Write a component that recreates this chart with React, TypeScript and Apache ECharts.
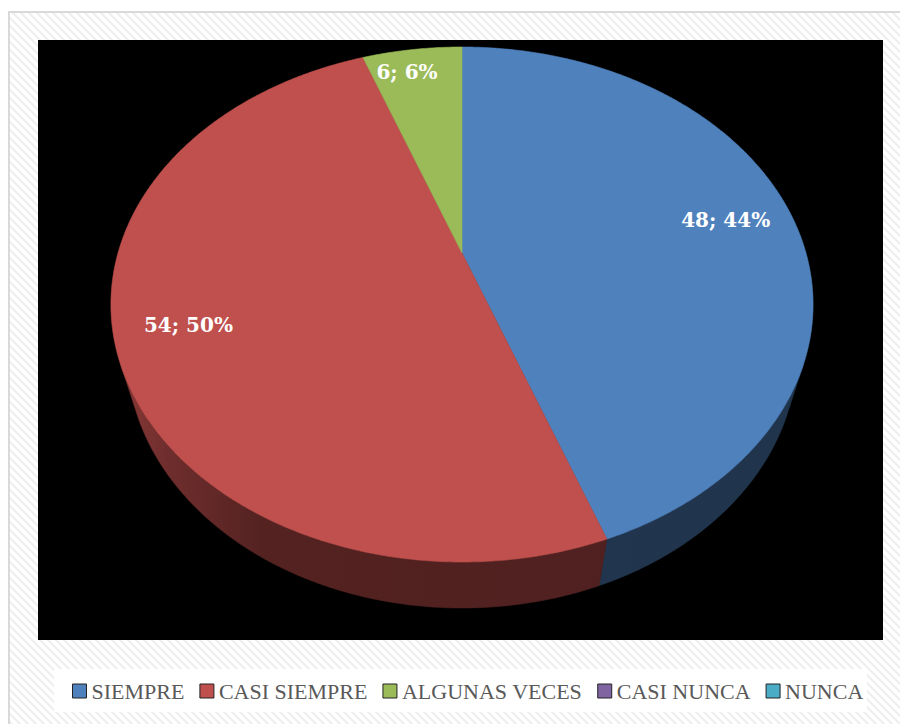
import React, { useEffect, useRef } from "react";
import * as echarts from "echarts";

const CATEGORIES = ["SIEMPRE", "CASI SIEMPRE", "ALGUNAS VECES", "CASI NUNCA", "NUNCA"];
const VALUES = [48, 54, 6, 0, 0];
const COLORS = ["#4f81bd", "#c0504d", "#9bbb59", "#8064a2", "#4bacc6"];

// perspective projection of a tilted 3D pie
const CX = 462;
const CY = 253;
const A = 344;
const K = 0.2;
const SIN_PHI = 0.7186;
const COS_PHI = Math.sqrt(1 - SIN_PHI * SIN_PHI);
const DIST = COS_PHI / K;
const FOCAL = A * DIST;
const THICK = 0.222;

function project(theta: number, r: number, h: number): number[] {
  const u = r * Math.sin(theta);
  const v = -r * Math.cos(theta);
  const depth = DIST - v * COS_PHI - h * SIN_PHI;
  return [CX + (u * FOCAL) / depth, CY + ((v * SIN_PHI - h * COS_PHI) * FOCAL) / depth];
}

function shade(hex: string, f: number): string {
  const n = parseInt(hex.slice(1), 16);
  const r = Math.round(((n >> 16) & 255) * f);
  const g = Math.round(((n >> 8) & 255) * f);
  const b = Math.round((n & 255) * f);
  return `rgb(${r},${g},${b})`;
}

const TOTAL = VALUES.reduce((a, b) => a + b, 0);
const V_MIN = 1 / (DIST * COS_PHI);
const VIS_START = Math.acos(-V_MIN);
const VIS_END = 2 * Math.PI - VIS_START;

function makeRender(idx: number) {
  return (params: any, api: any) => {
    const value = api.value(0) as number;
    if (!value) return { type: "group", children: [] };
    let before = 0;
    for (let j = 0; j < idx; j++) before += VALUES[j];
    const a0 = (before / TOTAL) * Math.PI * 2;
    const a1 = ((before + value) / TOTAL) * Math.PI * 2;
    const color = COLORS[idx];
    const children: any[] = [];
    const step = Math.PI / 360;

    // side wall
    const s = Math.max(a0, VIS_START);
    const e = Math.min(a1, VIS_END);
    if (e > s) {
      const top: number[][] = [];
      const bot: number[][] = [];
      const n = Math.max(2, Math.ceil((e - s) / step));
      for (let k = 0; k <= n; k++) {
        const t = s + ((e - s) * k) / n;
        top.push(project(t, 1, 0));
        bot.push(project(t, 1, -THICK));
      }
      const pts = top.concat(bot.reverse());
      const fill = new echarts.graphic.LinearGradient(
        110, 0, 812, 0,
        [
          { offset: 0, color: shade(color, 0.74) },
          { offset: 0.08, color: shade(color, 0.58) },
          { offset: 0.22, color: shade(color, 0.43) },
          { offset: 1, color: shade(color, 0.4) },
        ],
        true
      );
      children.push({
        type: "polygon",
        z2: 1,
        shape: { points: pts },
        style: { fill, stroke: shade(color, 0.42), lineWidth: 0.5 },
      });
    }

    // top face
    const facePts: number[][] = [project(0, 0, 0)];
    const n2 = Math.max(2, Math.ceil((a1 - a0) / step));
    for (let k = 0; k <= n2; k++) {
      facePts.push(project(a0 + ((a1 - a0) * k) / n2, 1, 0));
    }
    children.push({
      type: "polygon",
      z2: 10,
      shape: { points: facePts },
      style: { fill: color, stroke: color, lineWidth: 0.6 },
    });

    // label
    const share = value / TOTAL;
    const mid = (a0 + a1) / 2 - (share < 0.1 ? 0.04 : 0);
    const rf = share < 0.1 ? 0.88 : 0.8;
    const lp = project(mid, rf, 0);
    children.push({
      type: "text",
      z2: 20,
      x: lp[0],
      y: lp[1],
      style: {
        text: `${value}; ${Math.round(share * 100)}%`,
        fill: "#ffffff",
        fontFamily: "DejaVu Serif",
        fontWeight: "bold",
        fontSize: 20,
        align: "center",
        verticalAlign: "middle",
      },
    });
    return { type: "group", children };
  };
}

function makePattern(): HTMLCanvasElement {
  const c = document.createElement("canvas");
  c.width = 8;
  c.height = 8;
  const g = c.getContext("2d")!;
  g.fillStyle = "#ffffff";
  g.fillRect(0, 0, 8, 8);
  g.strokeStyle = "#eeeeee";
  g.lineWidth = 2;
  g.beginPath();
  g.moveTo(-4, -4);
  g.lineTo(12, 12);
  g.moveTo(-4, 4);
  g.lineTo(4, 12);
  g.moveTo(4, -4);
  g.lineTo(12, 4);
  g.stroke();
  return c;
}

export default function App() {
  const ref = useRef<HTMLDivElement>(null);
  useEffect(() => {
    document.body.style.margin = "0";
    if (!ref.current) return;
    const chart = echarts.init(ref.current, null, { renderer: "svg" });
    const pattern = makePattern();
    chart.setOption({
      animation: false,
      backgroundColor: "#ffffff",
      graphic: [
        {
          type: "rect",
          z: -10,
          silent: true,
          shape: { x: 9, y: 12, width: 900, height: 720 },
          style: {
            fill: { image: pattern, repeat: "repeat", imageWidth: 8, imageHeight: 8 },
            stroke: "#d9d9d9",
            lineWidth: 2,
          },
        },
        {
          type: "rect",
          z: -9,
          silent: true,
          shape: { x: 38, y: 40, width: 845, height: 600 },
          style: { fill: "#000000" },
        },
        {
          type: "rect",
          z: -9,
          silent: true,
          shape: { x: 54, y: 669, width: 813, height: 43 },
          style: { fill: "#ffffff" },
        },
      ],
      legend: {
        data: CATEGORIES,
        left: 72,
        top: 680,
        padding: 0,
        itemWidth: 14,
        itemHeight: 14,
        itemGap: 15,
        icon: "rect",
        selectedMode: false,
        itemStyle: { borderColor: "#222222", borderWidth: 1 },
        textStyle: { fontFamily: "Liberation Serif", fontSize: 22, color: "#595959" },
      },
      series: CATEGORIES.map((name, i) => ({
        type: "custom",
        name,
        coordinateSystem: "none",
        silent: true,
        color: COLORS[i],
        itemStyle: { color: COLORS[i] },
        data: [[VALUES[i]]],
        renderItem: makeRender(i),
      })),
    });
    return () => chart.dispose();
  }, []);
  return <div ref={ref} style={{ width: 900, height: 724 }} />;
}
